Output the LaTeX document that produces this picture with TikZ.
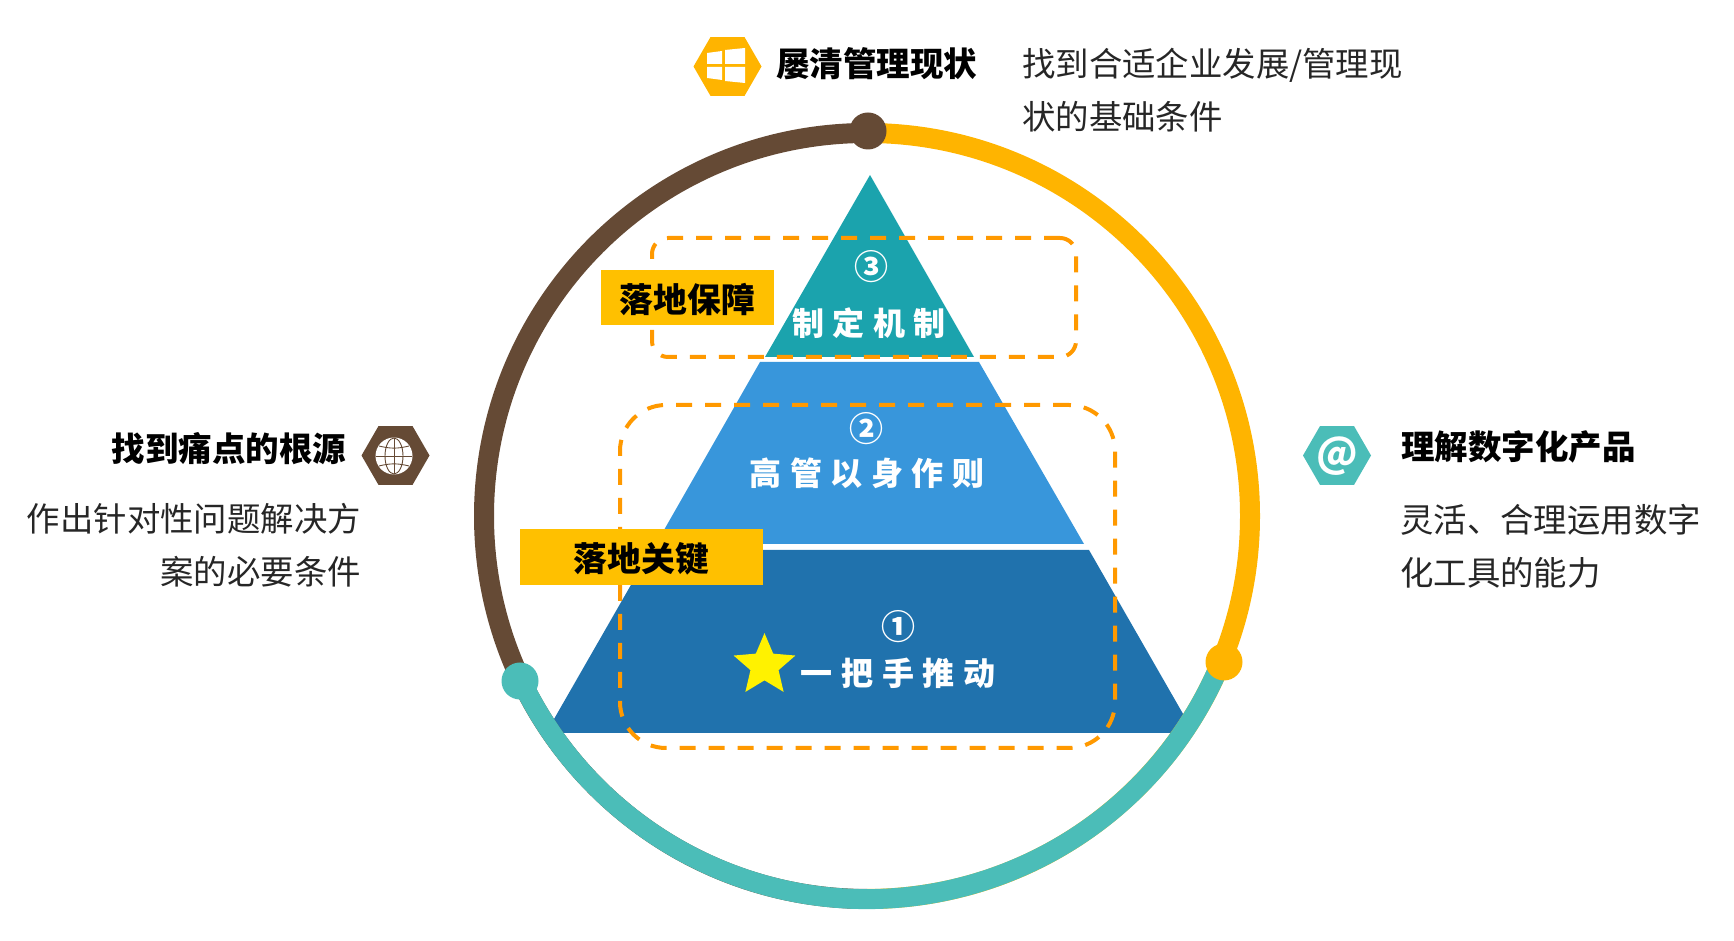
\documentclass[tikz,border=0pt]{standalone}
\usepackage{fontspec}
\usepackage{xcolor}
\setmainfont{Noto Sans CJK SC}
\newfontfamily\hxspaced[LetterSpace=27]{Noto Sans CJK SC}
\usetikzlibrary{positioning,shapes.geometric}
\definecolor{hxamber}{RGB}{255,180,0}
\definecolor{hxbrown}{RGB}{101,74,53}
\definecolor{hxteal}{RGB}{75,189,184}
\definecolor{hxtop}{RGB}{27,163,173}
\definecolor{hxmid}{RGB}{56,150,219}
\definecolor{hxlow}{RGB}{32,114,173}
\definecolor{hxlabel}{RGB}{255,192,0}
\definecolor{hxdash}{RGB}{255,153,0}
\definecolor{hxtext}{RGB}{38,38,38}
\tikzset{
  hxring/.style={line width=20pt},
  hxdot/.style={circle, inner sep=0pt, minimum size=37pt},
  hxhex/.style={regular polygon, regular polygon sides=6, inner sep=0pt, minimum size=68pt},
  hxhead/.style={font=\fontsize{33.5}{40}\selectfont\bfseries, text=black, inner sep=0pt},
  hxdesc/.style={font=\fontsize{33.4}{53}\selectfont, text=hxtext, inner sep=0pt},
  hxlayer/.style={font=\hxspaced\fontsize{32}{36}\selectfont\bfseries, text=white, inner sep=0pt},
  hxnum/.style={font=\fontsize{34}{36}\selectfont\bfseries, text=white, inner sep=0pt},
  hxtag/.style={fill=hxlabel, inner sep=0pt, font=\fontsize{33.8}{40}\selectfont\bfseries, text=black},
  hxframe/.style={draw=hxdash, line width=4pt, dash pattern=on 16pt off 13pt, inner sep=0pt},
  hxgrid/.style={draw=hxbrown, line width=.9pt}
}
\begin{document}
\begin{tikzpicture}[x=1pt, y=1pt]
  \useasboundingbox (0,0) rectangle (1734,941);
  \coordinate (ringc) at (867,425);
  \fill[hxtop] (870,766) -- (974,584) -- (765,584) -- cycle;
  \fill[hxmid] (760,579) -- (979,579) -- (1084,397) -- (656,397) -- cycle;
  \fill[hxlow] (651,391) -- (1089,391) -- (1194,208) -- (546,208) -- cycle;
  \node[hxnum] (numthree) at (871,674) {③};
  \node[hxlayer] (layerthree) at (869,618) {制定机制};
  \node[hxnum] (numtwo) at (866.5,512) {②};
  \node[hxlayer] (layertwo) at (867,468) {高管以身作则};
  \node[hxnum] (numone) at (898,314) {①};
  \node[hxlayer] (layerone) at (898,268) {一把手推动};
  \node[star, star points=5, star point ratio=2.2, fill=yellow, inner sep=0pt, minimum size=65pt] (star) at (764.5,275.4) {};
  \node[hxframe, rounded corners=16pt, minimum width=424pt, minimum height=119pt] (frametop) at (864,643.5) {};
  \node[hxframe, rounded corners=46pt, minimum width=495pt, minimum height=343pt] (framelow) at (867.5,364.5) {};
  \node[hxtag, minimum width=173pt, minimum height=55pt, text depth=0pt] (tagtop) at (687.5,643.5) {落地保障};
  \node[hxtag, minimum width=243pt, minimum height=56pt, text depth=0pt] (taglow) at (641.5,384) {落地关键};
  \draw[hxring, draw=hxamber] ([shift=(90:383pt)]ringc) arc[start angle=90, end angle=-90, radius=383pt];
  \draw[hxring, draw=hxbrown] ([shift=(270:383pt)]ringc) arc[start angle=270, end angle=90, radius=383pt];
  \draw[hxring, draw=hxteal] ([shift=(-22:383pt)]ringc) arc[start angle=-22, end angle=-154.6, radius=383pt];
  \node[hxdot, fill=hxbrown] (dottop) at (868,810) {};
  \node[hxdot, fill=hxamber] (dotright) at (1224,279) {};
  \node[hxdot, fill=hxteal] (dotleft) at (520,260) {};
  \node[hxhex, fill=hxamber] (hextop) at (727.5,874.5) {};
  \fill[white] (707,888) -- (722,890) -- (722,877) -- (707,877) -- cycle;
  \fill[white] (725,891) -- (745,893) -- (745,877) -- (725,877) -- cycle;
  \fill[white] (707,874) -- (722,874) -- (722,861) -- (707,863) -- cycle;
  \fill[white] (725,874) -- (745,874) -- (745,858) -- (725,860) -- cycle;
  \node[hxhead, right=14.5pt of hextop, yshift=3pt] (headtop) {屡清管理现状};
  \node[hxdesc, align=left, anchor=west] (desctop) at (1022,851) {找到合适企业发展/管理现\\状的基础条件};
  \node[hxhex, fill=hxbrown] (hexleft) at (395.5,485.5) {};
  \fill[white] (394,485) circle[radius=18.5pt];
  \draw[hxgrid] (394,485) circle[x radius=9pt, y radius=18pt];
  \draw[hxgrid] (394,467) -- (394,503);
  \draw[hxgrid] (376,485) -- (412,485);
  \draw[hxgrid] (379,495) to[bend right=14] (409,495);
  \draw[hxgrid] (379,475) to[bend left=14] (409,475);
  \node[hxhead, left=15pt of hexleft, yshift=7pt] (headleft) {找到痛点的根源};
  \node[hxdesc, align=right, anchor=east] (descleft) at (361,396) {作出针对性问题解决方\\案的必要条件};
  \node[hxhex, fill=hxteal] (hexright) at (1337,485.5) {};
  \node[font=\fontsize{40}{40}\selectfont\bfseries, text=white, inner sep=0pt] (atsign) at (1337,485) {@};
  \node[hxhead, right=30pt of hexright, yshift=8.5pt] (headright) {理解数字化产品};
  \node[hxdesc, align=left, anchor=west] (descright) at (1400,394.5) {灵活、合理运用数字\\化工具的能力};
\end{tikzpicture}
\end{document}
